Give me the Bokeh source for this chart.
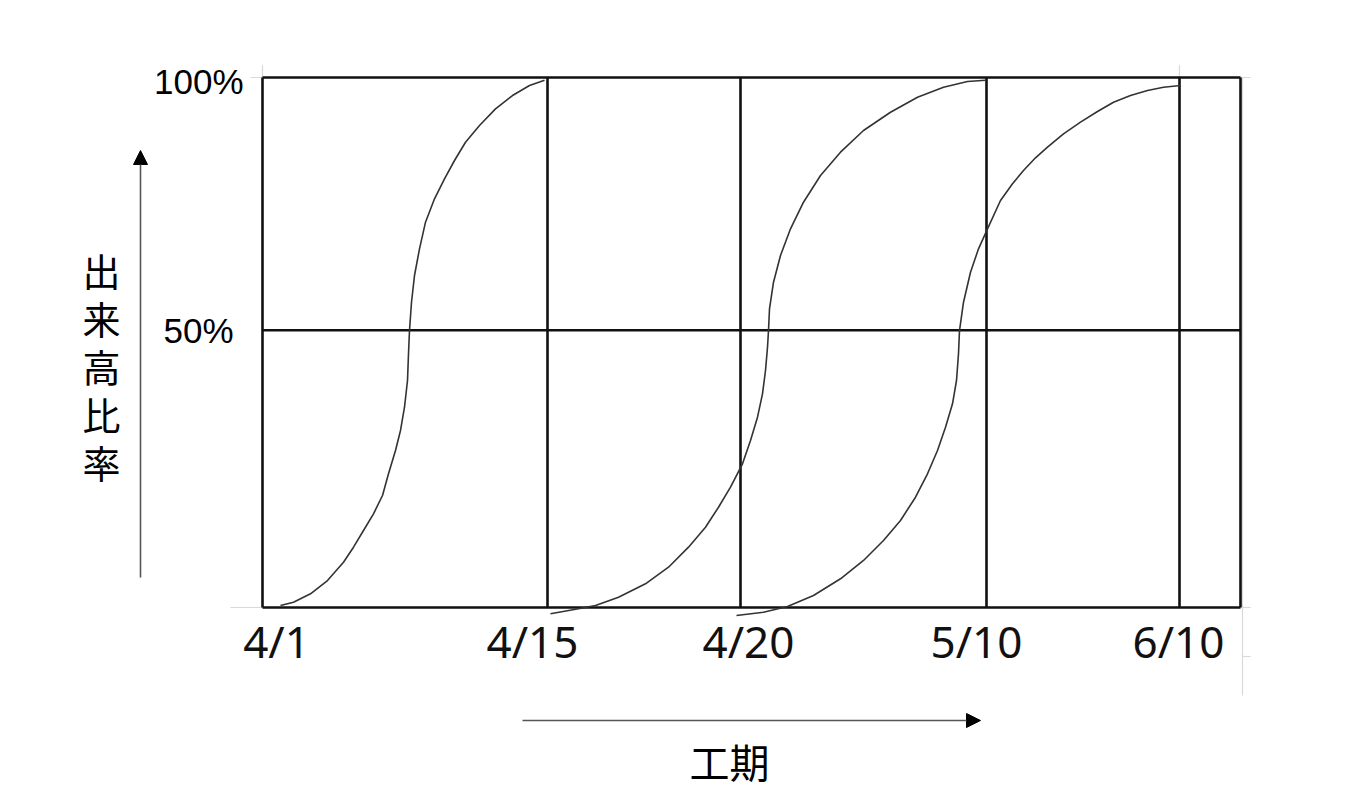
from bokeh.core.properties import value
from bokeh.embed import file_html
from bokeh.models import Arrow, ColumnDataSource, NormalHead, Range1d
from bokeh.plotting import figure
from bokeh.resources import INLINE

# Hand drawn S-curve chart: x is in drawing units (4/1 = 0), y in percent of the frame height
x_ticks = [0, 285, 478, 724, 917]
x_labels = ["4/1", "4/15", "4/20", "5/10", "6/10"]
x_label_pos = [14, 270, 486, 714, 916]
x_right = 978

y_ticks = [0, 52.3, 100]
y_labels = ["", "50%", "100%"]

# three S-curves
c1_x = [18, 31, 48, 65, 81, 91, 101, 111, 120, 126, 133, 138, 142, 145, 146, 147, 149, 152, 157, 163,
        172, 182, 192, 203, 217, 233, 250, 267, 282]
c1_y = [0.38, 1.0, 2.58, 5.09, 8.55, 11.38, 14.53, 17.68, 21.13, 25.23, 29.62, 33.40, 37.79, 42.83,
        47.87, 52.26, 57.60, 62.64, 67.68, 72.70, 77.11, 80.89, 84.34, 87.79, 90.94, 94.09, 96.60,
        98.49, 99.49]

c2_x = [288, 316, 333, 356, 383, 406, 426, 443, 456, 468, 480, 488, 495, 500, 503, 505, 506, 507, 511,
        518, 528, 541, 558, 578, 601, 628, 655, 681, 705, 723]
c2_y = [-1.19, -0.25, 0.38, 1.94, 4.47, 7.60, 11.38, 15.15, 18.92, 22.70, 27.11, 31.51, 35.91, 40.32,
        44.72, 49.11, 52.26, 56.36, 61.38, 66.42, 71.45, 76.47, 81.51, 85.91, 90.0, 93.45, 96.28,
        98.17, 99.25, 99.49]

c3_x = [474, 501, 525, 551, 578, 601, 621, 638, 653, 665, 675, 683, 690, 694, 696, 697, 701, 708, 716,
        725, 738, 750, 761, 773, 785, 801, 818, 835, 851, 868, 885, 901, 918]
c3_y = [-1.51, -0.89, 0.19, 2.26, 5.42, 8.87, 12.64, 16.42, 20.81, 25.23, 29.62, 34.02, 38.43, 42.83,
        47.87, 52.26, 57.60, 63.26, 67.68, 71.45, 76.79, 79.94, 82.45, 84.85, 86.85, 89.38, 91.57,
        93.58, 95.34, 96.60, 97.55, 98.17, 98.49]

p = figure(width=1339, height=789, output_backend="svg", toolbar_location=None,
           x_range=Range1d(-262, 1077), y_range=Range1d(-34.34, 114.53),
           min_border=0, outline_line_color=None)
p.axis.visible = False
p.grid.visible = False
p.background_fill_color = "white"

# faint spreadsheet cell lines
grey = "#d9d9d9"
p.segment(x0=[-12, 0, -32, 980, 980, 917, 980, 978], y0=[100, 100, 0, 0, -9.25, 100, 100, 100],
          x1=[0, 0, 0, 988, 988, 917, 980, 988], y1=[100, 102.3, 0, 0, -9.25, 102.3, -16.6, 100],
          line_color=grey, line_width=1.2)

# grid and frame
vx = x_ticks + [x_right]
p.segment(x0=vx, y0=[0] * len(vx), x1=vx, y1=[100] * len(vx), line_color="#111111", line_width=2.6)
p.segment(x0=[0] * len(y_ticks), y0=y_ticks, x1=[x_right] * len(y_ticks), y1=y_ticks,
          line_color="#111111", line_width=2.6)

# curves
for cx, cy in [(c1_x, c1_y), (c2_x, c2_y), (c3_x, c3_y)]:
    p.line(cx, cy, line_color="#333333", line_width=1.6, line_join="round")

# tick labels
xsrc = ColumnDataSource(dict(x=x_label_pos, y=[-6.4] * len(x_labels), t=x_labels))
p.text(x="x", y="y", text="t", source=xsrc, text_font=value("Noto Sans"),
       text_font_size="44px", text_align="center", text_baseline="middle", text_color="#111111")

ysrc = ColumnDataSource(dict(x=[-29, -29, -19], y=[0, 52.3, 99.3], t=y_labels))
p.text(x="x", y="y", text="t", source=ysrc, text_font=value("Liberation Sans"),
       text_font_size="35px", text_align="right", text_baseline="middle", text_color="black")

# axis arrows and titles
p.add_layout(Arrow(end=NormalHead(size=14, fill_color="black", line_color="black"),
                   x_start=-122, y_start=5.66, x_end=-122, y_end=86.23,
                   line_color="#555555", line_width=1.6))
p.add_layout(Arrow(end=NormalHead(size=14, fill_color="black", line_color="black"),
                   x_start=260, y_start=-21.32, x_end=718, y_end=-21.32,
                   line_color="#555555", line_width=1.6))

p.text(x=[-161], y=[45.66], text=["出\n来\n高\n比\n率"], text_font=value("Noto Sans CJK JP"),
       text_font_size="38px", text_line_height=0.87, text_align="center", text_baseline="middle",
       text_color="black")
p.text(x=[467], y=[-28.9], text=["工期"], text_font=value("Noto Sans CJK JP"),
       text_font_size="40px", text_align="center", text_baseline="middle", text_color="black")

open("out.html", "w").write(file_html(p, INLINE))
